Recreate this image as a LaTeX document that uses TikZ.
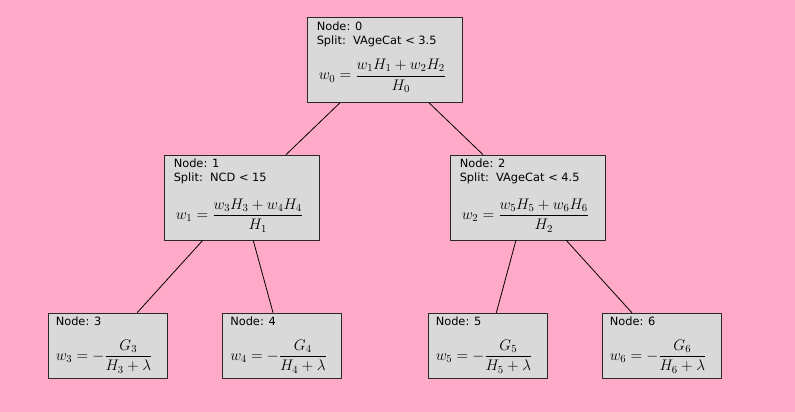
\RequirePackage{fix-cm}
\documentclass[tikz,border=0pt]{standalone}
\usepackage{fontspec}
\usepackage{amsmath}
\usetikzlibrary{positioning}
\newfontfamily\boxfont{DejaVu Sans}
\definecolor{bgpink}{RGB}{255,170,200}
\definecolor{boxgray}{RGB}{217,217,217}
\definecolor{boxedge}{RGB}{40,40,40}

\begin{document}
\begin{tikzpicture}[line cap=round,line join=round,x=1pt,y=1pt,
  splitbox/.style={draw=boxedge,fill=boxgray,line width=0.9pt,minimum width=155pt,minimum height=85pt,inner sep=0pt},
  leafbox/.style={splitbox,minimum width=119pt,minimum height=65pt},
  info/.style={font=\boxfont\fontsize{11.4}{13}\selectfont,inner sep=0pt,anchor=base west},
  eqn/.style={font=\fontsize{15.3}{17}\selectfont,inner sep=0pt,anchor=west},
  branch/.style={draw=black,line width=0.8pt}]
\fill[bgpink] (0,0) rectangle (795,-412);
%
% split nodes
\node[splitbox] (n0) at (384.5,-60) {};
\node[splitbox] (n1) at (241.5,-197.5) {};
\node[splitbox] (n2) at (527.5,-197.5) {};
%
% leaves
\node[leafbox] (n3) at (107.5,-345.5) {};
\node[leafbox] (n4) at (282,-345.5) {};
\node[leafbox] (n5) at (487.5,-345.5) {};
\node[leafbox] (n6) at (661.5,-345.5) {};
%
\draw[branch] (n0) -- (n1);
\draw[branch] (n0) -- (n2);
\draw[branch] (n1) -- (n3);
\draw[branch] (n1) -- (n4);
\draw[branch] (n2) -- (n5);
\draw[branch] (n2) -- (n6);
%
\node[info] (n0id) at ([xshift=10,yshift=-13]n0.north west) {Node: 0};
\node[info] (n0split) at ([xshift=10,yshift=-27]n0.north west) {Split:\ \ VAgeCat < 3.5};
\node[eqn] (n0w) at ([xshift=12,yshift=27]n0.south west) {$w_0 = \dfrac{w_1H_1 + w_2H_2}{H_0}$};
%
\node[info] (n1id) at ([xshift=10,yshift=-13]n1.north west) {Node: 1};
\node[info] (n1split) at ([xshift=10,yshift=-27]n1.north west) {Split:\ \ NCD < 15};
\node[eqn] (n1w) at ([xshift=12,yshift=25]n1.south west) {$w_1 = \dfrac{w_3H_3 + w_4H_4}{H_1}$};
%
\node[info] (n2id) at ([xshift=10,yshift=-13]n2.north west) {Node: 2};
\node[info] (n2split) at ([xshift=10,yshift=-27]n2.north west) {Split:\ \ VAgeCat < 4.5};
\node[eqn] (n2w) at ([xshift=12,yshift=25]n2.south west) {$w_2 = \dfrac{w_5H_5 + w_6H_6}{H_2}$};
%
\node[info] (n3id) at ([xshift=8,yshift=-13]n3.north west) {Node: 3};
\node[eqn] (n3w) at ([xshift=8,yshift=22]n3.south west) {$w_3 = -\dfrac{G_3}{H_3 + \lambda}$};
\node[info] (n4id) at ([xshift=8,yshift=-13]n4.north west) {Node: 4};
\node[eqn] (n4w) at ([xshift=8,yshift=22]n4.south west) {$w_4 = -\dfrac{G_4}{H_4 + \lambda}$};
\node[info] (n5id) at ([xshift=8,yshift=-13]n5.north west) {Node: 5};
\node[eqn] (n5w) at ([xshift=8,yshift=22]n5.south west) {$w_5 = -\dfrac{G_5}{H_5 + \lambda}$};
\node[info] (n6id) at ([xshift=8,yshift=-13]n6.north west) {Node: 6};
\node[eqn] (n6w) at ([xshift=8,yshift=22]n6.south west) {$w_6 = -\dfrac{G_6}{H_6 + \lambda}$};
\end{tikzpicture}
\end{document}
